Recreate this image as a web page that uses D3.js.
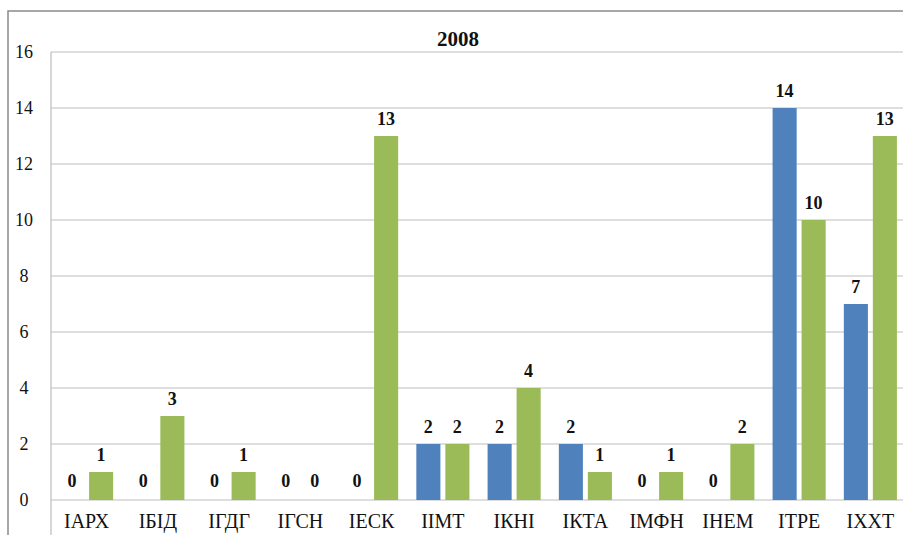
<!DOCTYPE html>
<html>
<head>
<meta charset="utf-8">
<script src="https://cdn.jsdelivr.net/npm/d3@7"></script>
</head>
<body style="margin:0">
<svg id="chart" width="903" height="535"></svg>
<script>
const categories = ['IАРХ', 'IБІД', 'IГДГ', 'IГСН', 'IЕСК', 'IІМТ', 'IКНІ', 'IКТА', 'IМФН', 'IНЕМ', 'IТРЕ', 'IХХТ'];
const blueValues = [0, 0, 0, 0, 0, 2, 2, 2, 0, 0, 14, 7];
const greenValues = [1, 3, 1, 0, 13, 2, 4, 1, 1, 2, 10, 13];
const yTicks = [0, 2, 4, 6, 8, 10, 12, 14, 16];
const title = '2008';

const WIDTH = 903;
const HEIGHT = 535;
const PLOT = {left: 51, right: 906, top: 52, bottom: 500};
const COLORS = {blue: '#4F81BD', green: '#9BBB59'};
const FONT = 'Liberation Serif';

const svg = d3.select('#chart');

const rows = categories.map((c, i) => ({
  cat: c,
  values: [
    {key: 'blue', value: blueValues[i]},
    {key: 'green', value: greenValues[i]}
  ]
}));

const x0 = d3.scaleBand()
  .domain(categories)
  .range([PLOT.left, PLOT.right])
  .paddingInner(0.255)
  .paddingOuter(0.1275);

const x1 = d3.scaleBand()
  .domain(['blue', 'green'])
  .range([0, x0.bandwidth()])
  .paddingInner(0.17);

const y = d3.scaleLinear()
  .domain([0, 16])
  .range([PLOT.bottom, PLOT.top]);

// outer frame
svg.append('path')
  .attr('d', `M8,${HEIGHT} V11 H${WIDTH}`)
  .attr('fill', 'none')
  .attr('stroke', '#8a8a8a')
  .attr('stroke-width', 1.5);

// gridlines
svg.append('g')
  .selectAll('line')
  .data(yTicks)
  .join('line')
    .attr('x1', PLOT.left)
    .attr('x2', WIDTH)
    .attr('y1', d => y(d))
    .attr('y2', d => y(d))
    .attr('stroke', '#bdbdbd')
    .attr('stroke-width', 1.2);

// plot area left edge
svg.append('line')
  .attr('x1', PLOT.left)
  .attr('x2', PLOT.left)
  .attr('y1', y(16))
  .attr('y2', HEIGHT)
  .attr('stroke', '#bdbdbd')
  .attr('stroke-width', 1.2);

// y tick labels
svg.append('g')
  .selectAll('text')
  .data(yTicks)
  .join('text')
    .attr('x', 24)
    .attr('y', d => y(d) + 6)
    .attr('text-anchor', 'middle')
    .attr('font-family', FONT)
    .attr('font-size', 18)
    .attr('fill', '#111')
    .text(d => d);

// bars
const group = svg.append('g')
  .selectAll('g')
  .data(rows)
  .join('g')
    .attr('transform', d => `translate(${x0(d.cat)},0)`);

group.selectAll('rect')
  .data(d => d.values.filter(v => v.value > 0))
  .join('rect')
    .attr('x', d => x1(d.key))
    .attr('y', d => y(d.value))
    .attr('width', x1.bandwidth())
    .attr('height', d => y(0) - y(d.value))
    .attr('fill', d => COLORS[d.key]);

group.selectAll('text')
  .data(d => d.values)
  .join('text')
    .attr('x', d => x1(d.key) + x1.bandwidth() / 2)
    .attr('y', d => y(d.value) - (d.value === 0 ? 13 : 11))
    .attr('text-anchor', 'middle')
    .attr('font-family', FONT)
    .attr('font-size', 18)
    .attr('font-weight', 'bold')
    .attr('fill', '#111')
    .text(d => d.value);

// category labels
svg.append('g')
  .selectAll('text')
  .data(categories)
  .join('text')
    .attr('x', d => x0(d) + x0.bandwidth() / 2)
    .attr('y', 528)
    .attr('text-anchor', 'middle')
    .attr('font-family', FONT)
    .attr('font-size', 20)
    .attr('fill', '#111')
    .text(d => d);

// title
svg.append('text')
  .attr('x', 458)
  .attr('y', 46)
  .attr('text-anchor', 'middle')
  .attr('font-family', FONT)
  .attr('font-size', 21)
  .attr('font-weight', 'bold')
  .attr('fill', '#111')
  .text(title);
</script>
</body>
</html>
